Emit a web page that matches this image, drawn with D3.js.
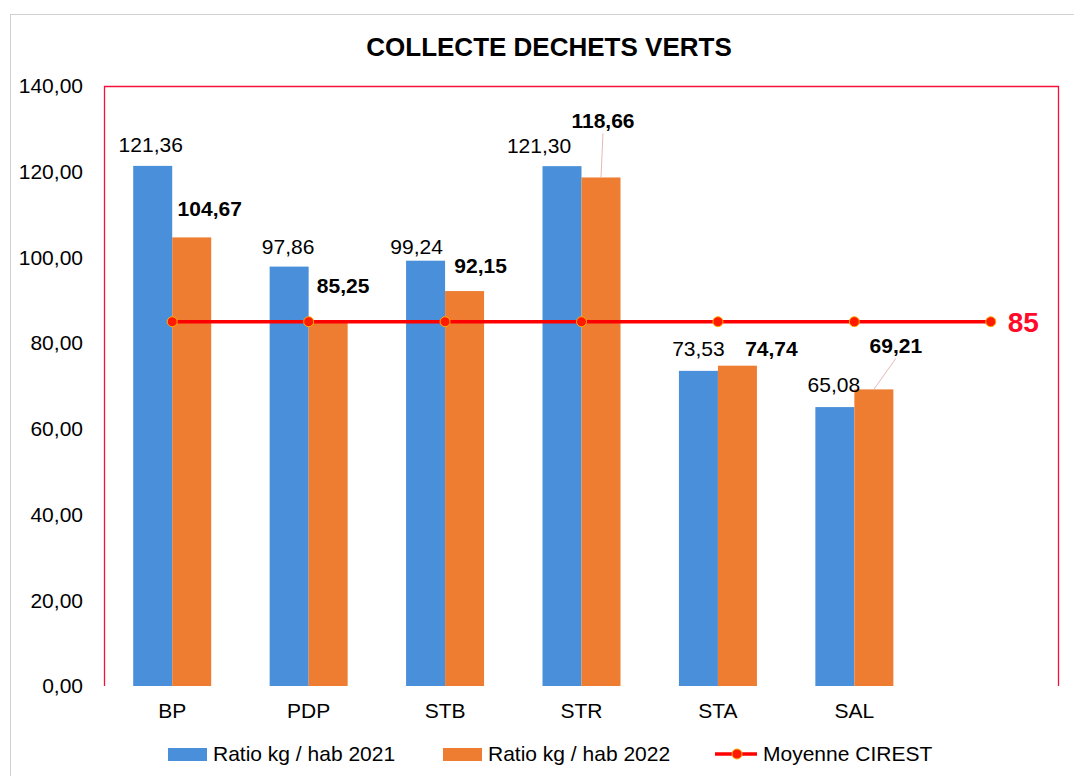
<!DOCTYPE html>
<html>
<head>
<meta charset="utf-8">
<script src="https://cdn.jsdelivr.net/npm/d3@7"></script>
<style>
  body { margin: 0; background: #fff; }
  svg { font-family: "Liberation Sans", Arial, sans-serif; }
</style>
</head>
<body>
<div id="chart"></div>
<script>
// data
var categories = ["BP", "PDP", "STB", "STR", "STA", "SAL", ""];
var ratio2021 = [121.36, 97.86, 99.24, 121.30, 73.53, 65.08];
var ratio2022 = [104.67, 85.25, 92.15, 118.66, 74.74, 69.21];
var moyenne = [85, 85, 85, 85, 85, 85, 85];
var yTicks = [0, 20, 40, 60, 80, 100, 120, 140];

var svgWidth = 1074;
var svgHeight = 776;

var margin = { top: 86, right: 15, bottom: 90, left: 104 };
var width = svgWidth - margin.left - margin.right;
var height = svgHeight - margin.top - margin.bottom;

var fmt = function(v) { return d3.format(".2f")(v).replace(".", ","); };

var svg = d3.select("#chart")
  .append("svg")
  .attr("width", svgWidth)
  .attr("height", svgHeight);

// outer chart frame
svg.append("rect")
  .attr("x", 10.5).attr("y", 14.5)
  .attr("width", svgWidth + 20).attr("height", svgHeight + 20)
  .attr("fill", "none")
  .attr("stroke", "#d0d0d0");

svg.append("text")
  .attr("x", 549).attr("y", 56)
  .attr("text-anchor", "middle")
  .attr("font-size", 26).attr("font-weight", "bold")
  .text("COLLECTE DECHETS VERTS");

var chartGroup = svg.append("g")
  .attr("transform", `translate(${margin.left}, ${margin.top})`);

var x0 = d3.scaleBand().domain(d3.range(categories.length)).range([0, width]).padding(0);
var x1 = d3.scaleBand().domain([0, 1]).range([-39, 39]);
var y = d3.scaleLinear().domain([0, 140]).range([height, 0]);

// plot area border (top, left, right)
chartGroup.append("path")
  .attr("d", `M0.5,${height} V0.5 H${width - 0.5} V${height}`)
  .attr("fill", "none")
  .attr("stroke", "#f5103c")
  .attr("stroke-width", 1.3);

// y axis labels
var leftAxis = d3.axisLeft(y).tickValues(yTicks).tickFormat(fmt).tickSize(0).tickPadding(21);
var yAxis = chartGroup.append("g").call(leftAxis);
yAxis.select(".domain").remove();
yAxis.selectAll("text").attr("font-size", 21).attr("fill", "#000")
  .attr("font-family", "Liberation Sans, Arial, sans-serif");

// x axis labels
var bottomAxis = d3.axisBottom(x0).tickFormat(i => categories[i]).tickSize(0).tickPadding(17);
var xAxis = chartGroup.append("g")
  .attr("transform", `translate(0, ${height})`)
  .call(bottomAxis);
xAxis.select(".domain").remove();
xAxis.selectAll("text").attr("font-size", 21).attr("fill", "#000")
  .attr("font-family", "Liberation Sans, Arial, sans-serif");

var colors = ["#4a8fd9", "#ee7d31"];
var series = [ratio2021, ratio2022];

series.forEach(function(vals, s) {
  chartGroup.selectAll(".bar" + s)
    .data(vals)
    .enter()
    .append("rect")
    .attr("x", (d, i) => x0(i) + x0.bandwidth() / 2 + x1(s))
    .attr("y", d => y(d))
    .attr("width", x1.bandwidth())
    .attr("height", d => height - y(d))
    .attr("fill", colors[s]);
});

// label nudges (dx, dy from bar top centre)
var nudge2021 = [[-2, -21], [-1, -20], [-9, -14], [-23, -21], [0, -22], [-1, -23]];
var nudge2022 = [[18, -29], [15, -35], [16, -26], [2, -57], [34, -17], [22, -44]];

chartGroup.selectAll(".lab2021")
  .data(ratio2021)
  .enter()
  .append("text")
  .attr("x", (d, i) => x0(i) + x0.bandwidth() / 2 + x1(0) + x1.bandwidth() / 2 + nudge2021[i][0])
  .attr("y", (d, i) => y(d) + nudge2021[i][1] + 7.5)
  .attr("text-anchor", "middle")
  .attr("font-size", 21)
  .text(fmt);

// leader lines for moved labels
[3, 5].forEach(function(i) {
  var bx = x0(i) + x0.bandwidth() / 2 + x1(1) + x1.bandwidth() / 2;
  chartGroup.append("line")
    .attr("x1", bx + nudge2022[i][0]).attr("y1", y(ratio2022[i]) + nudge2022[i][1] + 13)
    .attr("x2", bx).attr("y2", y(ratio2022[i]))
    .attr("stroke", "#e8b8b8").attr("stroke-width", 1);
});

chartGroup.selectAll(".lab2022")
  .data(ratio2022)
  .enter()
  .append("text")
  .attr("x", (d, i) => x0(i) + x0.bandwidth() / 2 + x1(1) + x1.bandwidth() / 2 + nudge2022[i][0])
  .attr("y", (d, i) => y(d) + nudge2022[i][1] + 7.5)
  .attr("text-anchor", "middle")
  .attr("font-size", 21)
  .attr("font-weight", "bold")
  .text(fmt);

// moyenne line
var line = d3.line()
  .x((d, i) => x0(i) + x0.bandwidth() / 2)
  .y(d => y(d));

chartGroup.append("path")
  .datum(moyenne)
  .attr("d", line)
  .attr("fill", "none")
  .attr("stroke", "#ff0000")
  .attr("stroke-width", 3.5);

chartGroup.selectAll(".dot")
  .data(moyenne)
  .enter()
  .append("circle")
  .attr("cx", (d, i) => x0(i) + x0.bandwidth() / 2)
  .attr("cy", d => y(d))
  .attr("r", 5)
  .attr("fill", "#ff1a00")
  .attr("stroke", "#ffb000")
  .attr("stroke-width", 1);

var last = moyenne.length - 1;
chartGroup.append("text")
  .attr("x", x0(last) + x0.bandwidth() / 2 + 17)
  .attr("y", y(moyenne[last]) + 10)
  .attr("font-size", 28)
  .attr("font-weight", "bold")
  .attr("fill", "#ff0a2a")
  .text(moyenne[last]);

// legend
var legend = svg.append("g").attr("transform", "translate(0, 753)");
var legendItems = ["Ratio kg / hab 2021", "Ratio kg / hab 2022", "Moyenne CIREST"];

legend.append("rect").attr("x", 168).attr("y", -5).attr("width", 39).attr("height", 13).attr("fill", colors[0]);
legend.append("text").attr("x", 213).attr("y", 8).attr("font-size", 21).text(legendItems[0]);

legend.append("rect").attr("x", 443).attr("y", -5).attr("width", 39).attr("height", 13).attr("fill", colors[1]);
legend.append("text").attr("x", 488).attr("y", 8).attr("font-size", 21).text(legendItems[1]);

legend.append("line").attr("x1", 715).attr("x2", 757).attr("y1", 1).attr("y2", 1)
  .attr("stroke", "#ff0000").attr("stroke-width", 3.5);
legend.append("circle").attr("cx", 737).attr("cy", 1).attr("r", 5)
  .attr("fill", "#ff1a00").attr("stroke", "#ffb000");
legend.append("text").attr("x", 763).attr("y", 8).attr("font-size", 21).text(legendItems[2]);
</script>
</body>
</html>
